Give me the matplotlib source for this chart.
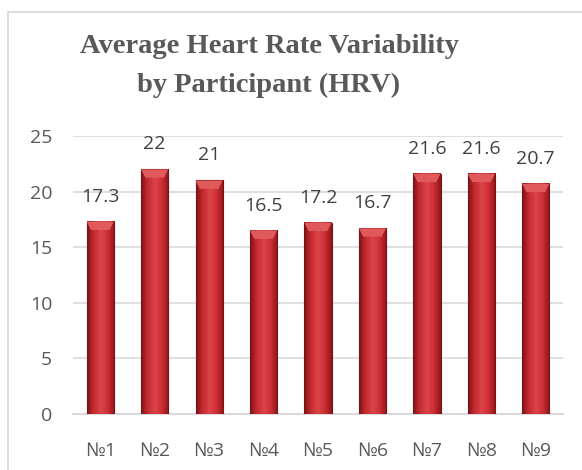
import matplotlib
matplotlib.use("Agg")
import matplotlib.pyplot as plt
from matplotlib.patches import Rectangle, Polygon
import numpy as np

participants = ['№1', '№2', '№3', '№4', '№5', '№6', '№7', '№8', '№9']
hrv = [17.3, 22, 21, 16.5, 17.2, 16.7, 21.6, 21.6, 20.7]
value_labels = ['17.3', '22', '21', '16.5', '17.2', '16.7', '21.6', '21.6', '20.7']
yticks = [0, 5, 10, 15, 20, 25]

gray = '#595959'
W, H = 582, 470

fig = plt.figure(figsize=(W / 100, H / 100), dpi=100)
fig.patch.set_facecolor('white')

# chart frame (runs past right/bottom edge like the screenshot)
fig.patches.append(Rectangle((8 / W, -0.05), 1.2, 1 - 12 / H + 0.05,
                             transform=fig.transFigure, fill=False,
                             edgecolor='#D9D9D9', linewidth=1.2))

ax = fig.add_axes([73 / W, 1 - 414 / H, (563 - 73) / W, (414 - 136) / H])
ax.set_xlim(-0.5, len(hrv) - 0.5)
ax.set_ylim(0, 25)

# horizontal gradient for the bevelled bars
cols = np.array([[0.50, 0.08, 0.09], [0.78, 0.17, 0.19], [0.86, 0.27, 0.29],
                 [0.80, 0.18, 0.20], [0.55, 0.09, 0.10]])
t = np.linspace(0, 1, 60)
pos = np.linspace(0, 1, len(cols))
grad = np.stack([np.interp(t, pos, cols[:, k]) for k in range(3)], axis=-1)[None, :, :]

bw = 0.5
for i, v in enumerate(hrv):
    x0, x1 = i - bw / 2, i + bw / 2
    ax.imshow(grad, extent=(x0, x1, 0, v), aspect='auto', zorder=3,
              interpolation='bilinear')
    ax.add_patch(Rectangle((x0, 0), bw, v, fill=False, edgecolor='#7A1214',
                           linewidth=0.8, zorder=4))
    # top bevel
    bev = 0.75
    ax.add_patch(Polygon([(x0, v), (x1, v), (x1 - 0.08, v - bev), (x0 + 0.08, v - bev)],
                         closed=True, facecolor='#E05A5C', edgecolor='none', zorder=4))
    ax.annotate(value_labels[i], (i, v), xytext=(0, 18), textcoords='offset points',
                ha='center', va='center', fontsize=14, color='#404040',
                family='Open Sans')

ax.set_xticks(range(len(participants)))
ax.set_xticklabels(participants, family='Open Sans', fontsize=14, color=gray)
ax.set_yticks(yticks)
ax.set_yticklabels([str(v) for v in yticks], family='Open Sans', fontsize=14, color=gray)
ax.tick_params(axis='both', length=0)
ax.tick_params(axis='y', pad=15)
ax.tick_params(axis='x', pad=20)
ax.grid(axis='y', color='#D9D9D9', linewidth=1.2, zorder=0)
ax.set_axisbelow(True)
for s in ['top', 'right', 'left']:
    ax.spines[s].set_visible(False)
ax.spines['bottom'].set_color('#D9D9D9')
ax.spines['bottom'].set_linewidth(1.5)
ax.set_facecolor('none')

fig.text(269 / W, 1 - 66 / H, 'Average Heart Rate Variability\nby Participant (HRV)',
         ha='center', va='center', fontsize=20.5, fontweight='bold', color=gray,
         family='Liberation Serif', linespacing=1.75)

fig.savefig('out.png', dpi=100)
